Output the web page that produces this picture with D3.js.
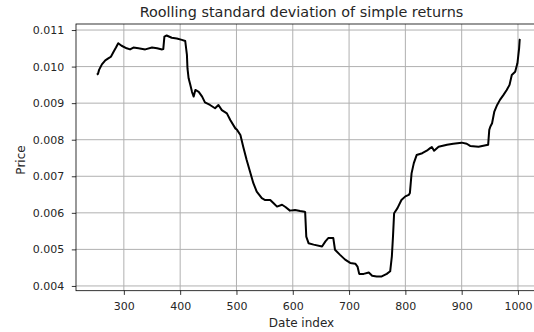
<!DOCTYPE html>
<html>
<head>
<meta charset="utf-8">
<script src="https://cdn.jsdelivr.net/npm/d3@7"></script>
<style>
  body { margin: 0; background: #fff; }
  svg { display: block; font-family: "DejaVu Sans", sans-serif; }
</style>
</head>
<body>
<svg id="chart" width="534" height="332"></svg>
<script>
// Rolling std of simple returns
const dateIndex = [
  252, 254, 256, 261, 267, 273, 277, 282, 286, 290, 296, 305, 311, 317, 326, 338,
  350, 359, 368, 370, 372, 376, 385, 394, 403, 409, 412, 413, 415, 418, 421, 424,
  427, 433, 439, 444, 453, 462, 468, 474, 483, 489, 498, 501, 507, 512, 518, 524,
  530, 536, 545, 551, 560, 566, 572, 581, 587, 595, 604, 613, 621, 622, 624, 628,
  637, 652, 658, 663, 672, 675, 684, 693, 702, 711, 715, 718, 726, 735, 741, 749,
  758, 767, 773, 776, 778, 780, 786, 793, 800, 806, 808, 811, 815, 820, 830, 838,
  844, 847, 851, 859, 874, 885, 900, 909, 915, 930, 947, 949, 951, 954, 958, 963,
  968, 974, 980, 985, 989, 995, 999, 1002, 1003, 1004
];
const rollingStd = [
  0.00978, 0.00980, 0.00991, 0.01006, 0.01017, 0.01023, 0.01027, 0.01041, 0.01052, 0.01064, 0.01057, 0.01050, 0.01047, 0.01052, 0.01050, 0.01047,
  0.01052, 0.01050, 0.01047, 0.01048, 0.01082, 0.01085, 0.01079, 0.01077, 0.01073, 0.01070, 0.01032, 0.00995, 0.00968, 0.00950, 0.00931, 0.00918,
  0.00936, 0.00931, 0.00918, 0.00902, 0.00895, 0.00886, 0.00895, 0.00881, 0.00872, 0.00854, 0.00831, 0.00827, 0.00813, 0.00781, 0.00745, 0.00713,
  0.00681, 0.00658, 0.00640, 0.00635, 0.00635, 0.00626, 0.00617, 0.00622, 0.00616, 0.00606, 0.00608, 0.00605, 0.00603, 0.00602, 0.00535, 0.00517,
  0.00513, 0.00508, 0.00522, 0.00531, 0.00531, 0.00499, 0.00485, 0.00472, 0.00463, 0.00461, 0.00453, 0.00433, 0.00433, 0.00437, 0.00428, 0.00426,
  0.00426, 0.00433, 0.00440, 0.00481, 0.00535, 0.00599, 0.00613, 0.00635, 0.00645, 0.00649, 0.00654, 0.00708, 0.00736, 0.00758, 0.00763, 0.00770,
  0.00777, 0.00780, 0.00770, 0.00781, 0.00786, 0.00789, 0.00792, 0.00789, 0.00783, 0.00781, 0.00786, 0.00827, 0.00836, 0.00845, 0.00877, 0.00895,
  0.00909, 0.00922, 0.00936, 0.00950, 0.00977, 0.00986, 0.01009, 0.01050, 0.01073, 0.01075
];
const xTicks = [300, 400, 500, 600, 700, 800, 900, 1000];
const yTicks = [0.004, 0.005, 0.006, 0.007, 0.008, 0.009, 0.010, 0.011];

const svg = d3.select('#chart');
const plotLeft = 76, plotRight = 540.5, plotTop = 24, plotBottom = 290.7;

const x = d3.scaleLinear().domain([215, 1040]).range([plotLeft, plotRight]);
const y = d3.scaleLinear().domain([0.00387, 0.011165]).range([plotBottom, plotTop]);

// grid
const grid = svg.append('g').attr('class', 'grid');
grid.selectAll('.gx').data(xTicks).join('line')
  .attr('x1', d => x(d)).attr('x2', d => x(d))
  .attr('y1', plotTop).attr('y2', plotBottom)
  .attr('stroke', '#b0b0b0').attr('stroke-width', 1);
grid.selectAll('.gy').data(yTicks).join('line')
  .attr('x1', plotLeft).attr('x2', plotRight)
  .attr('y1', d => y(d)).attr('y2', d => y(d))
  .attr('stroke', '#b0b0b0').attr('stroke-width', 1);

// line
const line = d3.line()
  .x((d, i) => x(dateIndex[i]))
  .y(d => y(d));
svg.append('path')
  .datum(rollingStd)
  .attr('d', line)
  .attr('fill', 'none')
  .attr('stroke', '#000')
  .attr('stroke-width', 2)
  .attr('stroke-linejoin', 'round');

// axes
const xAxis = d3.axisBottom(x).tickValues(xTicks).tickSize(4.2).tickPadding(7).tickFormat(d3.format('d'));
const yAxis = d3.axisLeft(y).tickValues(yTicks).tickSize(4.2).tickPadding(7.5).tickFormat(d3.format('.3f'));

const gx = svg.append('g').attr('transform', `translate(0,${plotBottom})`).call(xAxis);
const gy = svg.append('g').attr('transform', `translate(${plotLeft},0)`).call(yAxis);
[gx, gy].forEach(g => {
  g.select('.domain').remove();
  g.selectAll('.tick line').attr('stroke', '#000').attr('stroke-width', 0.8);
  g.selectAll('.tick text').attr('fill', '#262626').style('font-size', '11px')
    .style('font-family', '"DejaVu Sans", sans-serif');
});

// spines
svg.append('rect')
  .attr('x', plotLeft).attr('y', plotTop)
  .attr('width', plotRight - plotLeft).attr('height', plotBottom - plotTop)
  .attr('fill', 'none').attr('stroke', '#000').attr('stroke-width', 0.8);

// labels
svg.append('text')
  .attr('x', 301.5).attr('y', 16.7)
  .attr('text-anchor', 'middle')
  .style('font-size', '14.4px').attr('fill', '#262626')
  .text('Roolling standard deviation of simple returns');

svg.append('text')
  .attr('x', 301.5).attr('y', 326.5)
  .attr('text-anchor', 'middle')
  .style('font-size', '12px').attr('fill', '#262626')
  .text('Date index');

svg.append('text')
  .attr('transform', 'translate(25,160) rotate(-90)')
  .attr('text-anchor', 'middle')
  .style('font-size', '12px').attr('fill', '#262626')
  .text('Price');
</script>
</body>
</html>
